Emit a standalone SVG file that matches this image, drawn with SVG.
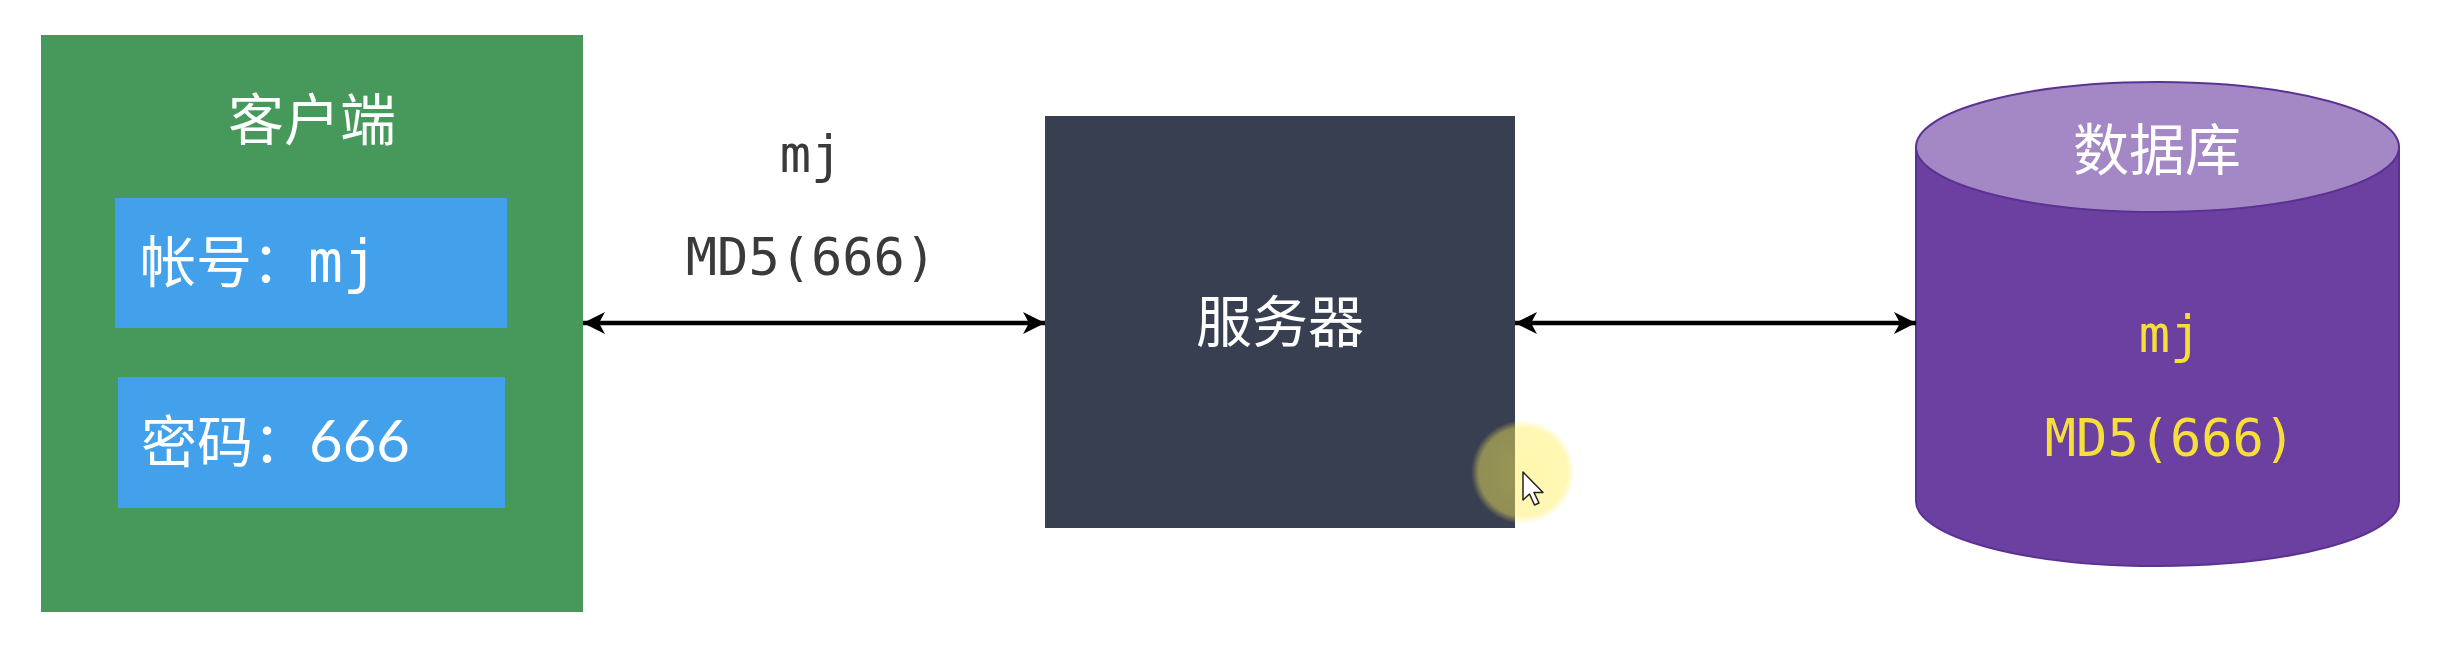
<svg xmlns="http://www.w3.org/2000/svg" width="2452" height="660" viewBox="0 0 2452 660">
  <style>
    .cjk { font-family: "Noto Sans CJK SC", "Noto Sans", sans-serif; fill: #ffffff; font-size: 56px; }
    .mono { font-family: "DejaVu Sans Mono", "Noto Sans CJK SC", monospace; font-size: 52px; }
    .lbl { fill: #3a3a3a; text-anchor: middle; }
    .yel { fill: #F7DF3A; text-anchor: middle; }
    .field { fill: #43A0EA; }
    .conn { stroke: #000; stroke-width: 4.5; fill: none; marker-start: url(#ah); marker-end: url(#ah); }
  </style>
  <defs>
    <marker id="ah" markerUnits="userSpaceOnUse" markerWidth="24" markerHeight="24" refX="22" refY="11" orient="auto-start-reverse" viewBox="0 0 24 22">
      <path d="M0,0 L22,11 L0,22 L6,11 Z" fill="#000"/>
    </marker>
    <radialGradient id="glow" cx="0.5" cy="0.5" r="0.5">
      <stop offset="0" stop-color="#FFEF5A" stop-opacity="0.5"/>
      <stop offset="0.85" stop-color="#FFEF5A" stop-opacity="0.45"/>
      <stop offset="1" stop-color="#FFEF5A" stop-opacity="0"/>
    </radialGradient>
  </defs>
  <rect width="2452" height="660" fill="#ffffff"/>

  <g id="client">
    <rect x="41" y="35" width="542" height="577" fill="#46995A"/>
    <text class="cjk" x="312" y="140" text-anchor="middle">客户端</text>
    <g id="account">
      <rect class="field" x="115" y="198" width="392" height="130"/>
      <text class="cjk" x="140" y="282">帐号：<tspan font-family="DejaVu Sans Mono, monospace" font-size="58">mj</tspan></text>
    </g>
    <g id="password">
      <rect class="field" x="118" y="377" width="387" height="131"/>
      <text class="cjk" x="141" y="462">密码：<tspan font-family="Lato, sans-serif" font-size="58">666</tspan></text>
    </g>
  </g>

  <g id="server">
    <rect x="1045" y="116" width="470" height="412" fill="#373F51"/>
    <text class="cjk" x="1280" y="342" text-anchor="middle">服务器</text>
  </g>

  <g id="database">
    <path d="M1916,147 L1916,501 A241.5,65 0 0 0 2399,501 L2399,147 Z" fill="#6C40A0" stroke="#5B3193" stroke-width="2"/>
    <ellipse cx="2157.5" cy="147" rx="241.5" ry="65" fill="#A488C6" stroke="#5B3193" stroke-width="2"/>
    <text class="cjk" x="2157" y="170" text-anchor="middle">数据库</text>
    <text class="mono yel" x="2170" y="352">mj</text>
    <text class="mono yel" x="2170" y="456">MD5(666)</text>
  </g>

  <g id="connectors">
    <line class="conn" x1="583" y1="323" x2="1045" y2="323"/>
    <line class="conn" x1="1515" y1="323" x2="1916" y2="323"/>
    <text class="mono lbl" x="811" y="172">mj</text>
    <text class="mono lbl" x="811" y="275">MD5(666)</text>
  </g>

  <g id="cursor">
    <circle cx="1523" cy="472" r="52" fill="url(#glow)"/>
    <path d="M1523,472 L1523,500 L1529.5,494 L1534.5,505 L1539,503 L1534,492.5 L1543,492.5 Z" fill="#ffffff" stroke="#222" stroke-width="1.5" stroke-linejoin="round"/>
  </g>
</svg>
